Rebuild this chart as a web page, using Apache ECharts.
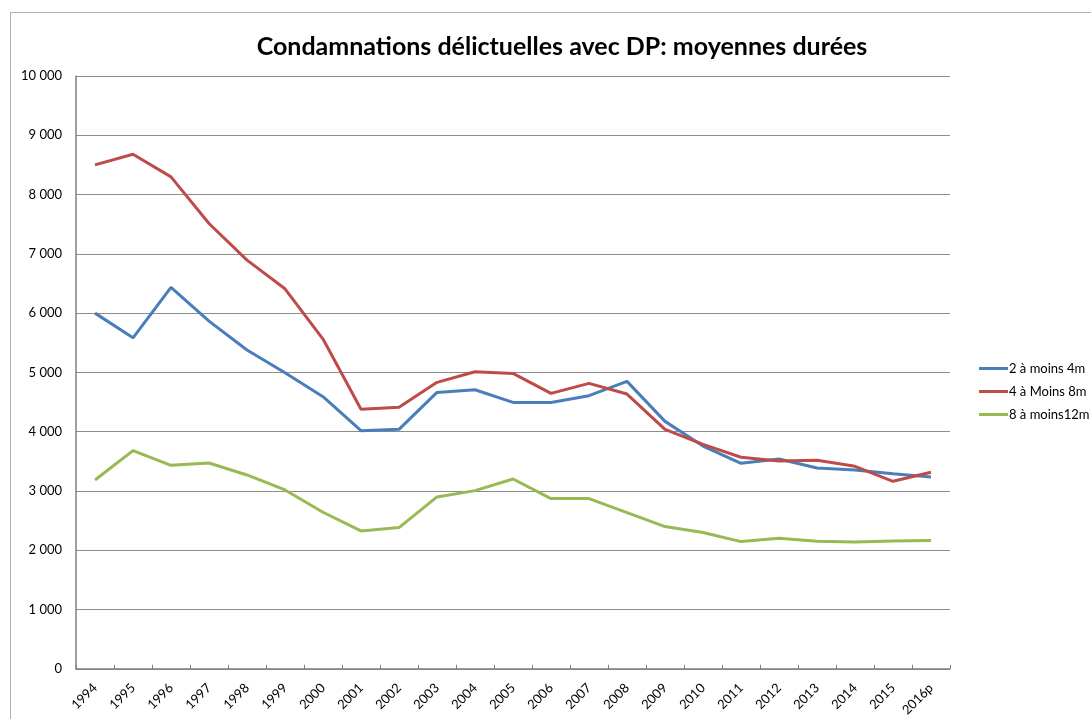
<!DOCTYPE html>
<html>
<head>
<meta charset="utf-8">
<script src="https://cdn.jsdelivr.net/npm/echarts@6/dist/echarts.min.js"></script>
<style>
  html, body { margin: 0; padding: 0; background: #fff; overflow: hidden; }
  #main { width: 1091px; height: 719px; }
  #frame {
    position: absolute; left: 10px; top: 12px; width: 1100px; height: 720px;
    border-left: 1.5px solid #b0b0b0; border-top: 1.5px solid #b0b0b0;
    pointer-events: none;
  }
</style>
</head>
<body>
<div id="main"></div>
<div id="frame"></div>
<script>
let years = ["1994", "1995", "1996", "1997", "1998", "1999", "2000", "2001", "2002", "2003", "2004", "2005",
  "2006", "2007", "2008", "2009", "2010", "2011", "2012", "2013", "2014", "2015", "2016p"];
let deuxAQuatre = [6000, 5584, 6433, 5865, 5377, 4994, 4590, 4017, 4040, 4663, 4708, 4494,
  4494, 4607, 4849, 4174, 3758, 3466, 3539, 3388, 3354, 3292, 3236];
let quatreAHuit = [8500, 8680, 8298, 7512, 6894, 6410, 5562, 4377, 4411, 4832, 5011, 4983,
  4646, 4815, 4635, 4040, 3787, 3568, 3506, 3517, 3416, 3163, 3315];
let huitADouze = [3185, 3680, 3433, 3472, 3270, 3017, 2641, 2326, 2382, 2899, 3006, 3202,
  2871, 2871, 2635, 2399, 2298, 2146, 2202, 2152, 2141, 2157, 2163];
let seriesNames = ["2 à moins 4m", "4 à Moins 8m", "8 à moins12m"];

let myChart = echarts.init(document.getElementById("main"));

function formatThousands(v) {
  return String(v).replace(/\B(?=(\d{3})+(?!\d))/g, " ");
}

let option = {
  animation: false,
  textStyle: { fontFamily: "Lato, 'Open Sans', sans-serif" },
  title: {
    text: "Condamnations délictuelles avec DP: moyennes durées",
    left: 557,
    textAlign: "center",
    top: 29,
    textStyle: { fontSize: 25, fontWeight: "bold", color: "#000", fontFamily: "Lato, sans-serif" },
  },
  legend: {
    orient: "vertical",
    left: 974,
    top: 357,
    itemGap: 10,
    itemWidth: 29,
    itemHeight: 3,
    icon: "rect",
    textStyle: { fontSize: 13, color: "#000", padding: [0, 0, 0, -4] },
    data: seriesNames,
  },
  grid: {
    left: 76,
    right: 141,
    top: 76,
    bottom: 50,
  },
  xAxis: {
    type: "category",
    data: years,
    boundaryGap: true,
    axisLine: { lineStyle: { color: "#7f7f7f", width: 1.5 } },
    axisTick: { show: true, inside: true, length: 4, lineStyle: { color: "#7f7f7f" } },
    axisLabel: { rotate: 45, color: "#000", fontSize: 13, margin: 17, interval: 0 },
  },
  yAxis: {
    type: "value",
    min: 0,
    max: 10000,
    interval: 1000,
    axisLine: { show: true, lineStyle: { color: "#7f7f7f", width: 1.5 } },
    axisTick: { show: false },
    axisLabel: { color: "#000", fontSize: 13, margin: 14, formatter: formatThousands },
    splitLine: { lineStyle: { color: "#8c8c8c", width: 1 } },
  },
  series: [
    {
      name: seriesNames[0],
      type: "line",
      data: deuxAQuatre,
      symbol: "none",
      color: "#4a7ebb",
      lineStyle: { width: 3, color: "#4a7ebb" },
    },
    {
      name: seriesNames[1],
      type: "line",
      data: quatreAHuit,
      symbol: "none",
      color: "#be4b48",
      lineStyle: { width: 3, color: "#be4b48" },
    },
    {
      name: seriesNames[2],
      type: "line",
      data: huitADouze,
      symbol: "none",
      color: "#98b954",
      lineStyle: { width: 3, color: "#98b954" },
    },
  ],
};
myChart.setOption(option);
</script>
</body>
</html>
